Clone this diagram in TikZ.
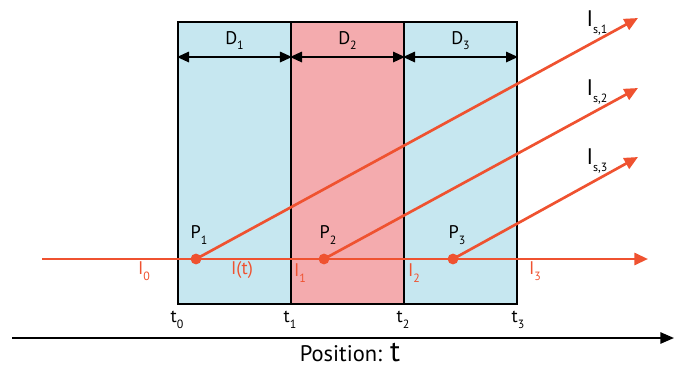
\documentclass[tikz,border=0pt]{standalone}
\usepackage{fontspec}
\setmainfont{PT Sans}
\usetikzlibrary{arrows.meta, positioning}

\definecolor{cellblue}{HTML}{C6E7F0}
\definecolor{cellpink}{HTML}{F4ABAE}
\definecolor{beam}{HTML}{EF5230}
\newcommand{\lowsub}[1]{\raisebox{-0.6ex}{\fontsize{8.5}{9}\selectfont #1}}

\begin{document}
\begin{tikzpicture}[x=0.025cm, y=-0.025cm,
      cell/.style={
        rectangle, draw=black, line width=1.4pt, inner sep=0pt,
        minimum width=2.825cm, minimum height=7.05cm, anchor=north west
      },
      dim/.style={
        {Triangle[length=3mm, width=2.6mm]}-{Triangle[length=3mm, width=2.6mm]},
        line width=1.4pt
      },
      ray/.style={
        -{Triangle[length=3.4mm, width=3mm]}, draw=beam, line width=1.9pt
      },
      axis/.style={
        -{Triangle[length=3.4mm, width=2.8mm]}, line width=1.4pt
      },
      dot/.style={circle, fill=beam, inner sep=0pt, minimum size=2.7mm},
      lbl/.style={font=\fontsize{13}{15}\selectfont},
      beamlbl/.style={lbl, text=beam}
    ]
    \useasboundingbox (0,0) rectangle (682,369);

    % --- Slabs ---
    \node[cell, fill=cellblue] (d1) at (177,21) {};
    \node[cell, fill=cellpink] (d2) at (290,21) {};
    \node[cell, fill=cellblue] (d3) at (403,21) {};

    % --- Thickness arrows ---
    \draw[dim] ([yshift=-0.9cm]d1.north west) -- ([yshift=-0.9cm]d1.north east)
      node[midway, above=1pt, lbl] {D\lowsub{1}};
    \draw[dim] ([yshift=-0.9cm]d2.north west) -- ([yshift=-0.9cm]d2.north east)
      node[midway, above=1pt, lbl] {D\lowsub{2}};
    \draw[dim] ([yshift=-0.9cm]d3.north west) -- ([yshift=-0.9cm]d3.north east)
      node[midway, above=1pt, lbl] {D\lowsub{3}};

    % --- Boundary positions ---
    \node[lbl, below=1pt] (t0) at (d1.south west) {t\lowsub{0}};
    \node[lbl, below=1pt] (t1) at (d2.south west) {t\lowsub{1}};
    \node[lbl, below=1pt] (t2) at (d3.south west) {t\lowsub{2}};
    \node[lbl, below=1pt] (t3) at (d3.south east) {t\lowsub{3}};

    % --- Incident beam ---
    \coordinate (src) at (42,259);
    \coordinate (out) at (648,259);
    \draw[ray] (src) -- (out);

    % --- Scattering points ---
    \node[dot] (p1) at (196,259) {};
    \node[dot] (p2) at (324,259) {};
    \node[dot] (p3) at (453,259) {};
    \node[lbl] at (199,235) {P\lowsub{1}};
    \node[lbl] at (328,235) {P\lowsub{2}};
    \node[lbl] at (457,235) {P\lowsub{3}};

    % --- Scattered beams ---
    \coordinate (s1) at (638,18);
    \coordinate (s2) at (638,88);
    \coordinate (s3) at (638,157);
    \draw[ray] (p1.center) -- (s1);
    \draw[ray] (p2.center) -- (s2);
    \draw[ray] (p3.center) -- (s3);
    \node[font=\fontsize{16}{18}\selectfont] at (597,23) {I\lowsub{s,1}};
    \node[font=\fontsize{16}{18}\selectfont] at (597,92) {I\lowsub{s,2}};
    \node[font=\fontsize{16}{18}\selectfont] at (597,161) {I\lowsub{s,3}};

    % --- Intensities along the beam ---
    \node[beamlbl] at (144,271) {I\lowsub{0}};
    \node[beamlbl] at (242,270) {I(t)};
    \node[beamlbl] at (300,273) {I\lowsub{1}};
    \node[beamlbl] at (414,273) {I\lowsub{2}};
    \node[beamlbl] at (535,271) {I\lowsub{3}};

    % --- Position axis ---
    \coordinate (a0) at (12,338);
    \coordinate (a1) at (674,338);
    \draw[axis] (a0) -- (a1);
    \node[font=\fontsize{16}{18}\selectfont, inner sep=0pt] (pos) at (350,352)
      {Position: {\fontsize{21}{23}\selectfont t}};

  \end{tikzpicture}
\end{document}
